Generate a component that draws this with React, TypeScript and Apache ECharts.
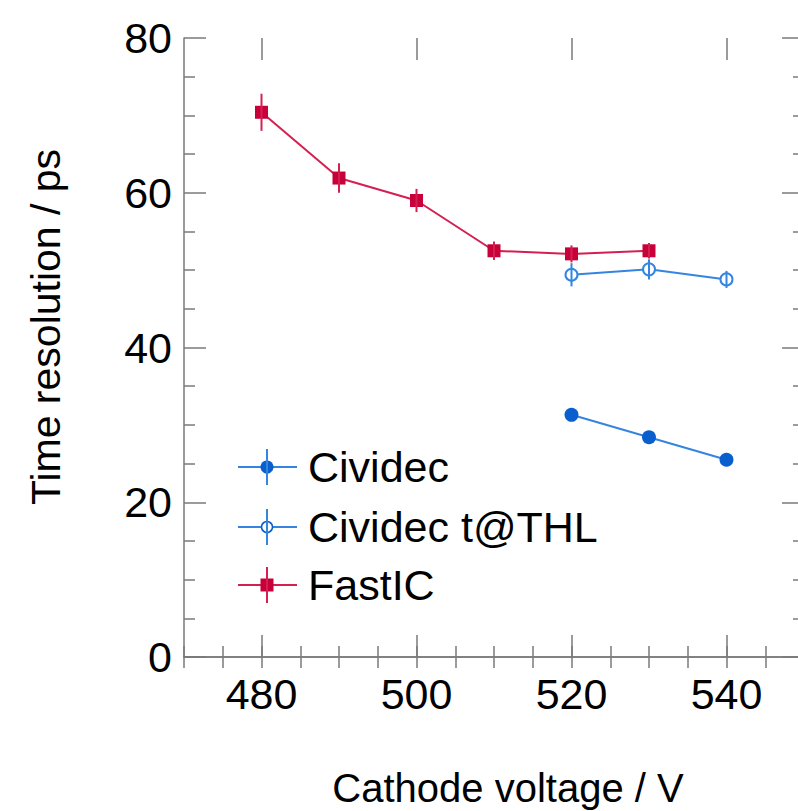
import React, { useEffect, useRef } from "react";
import * as echarts from "echarts";

// ---- data ----
const fastIcX = [480, 490, 500, 510, 520, 530];
const fastIcY = [70.4, 61.9, 59.0, 52.5, 52.1, 52.5];
const fastIcErr = [2.4, 1.9, 1.5, 1.2, 1.1, 1.0];

const thlX = [520, 530, 540];
const thlY = [49.4, 50.1, 48.8];
const thlErr = [1.5, 1.3, 1.1];

const civX = [520, 530, 540];
const civY = [31.3, 28.4, 25.5];
const civErr = [0.6, 0.6, 0.6];

const legendNames = ["Cividec", "Cividec t@THL", "FastIC"];
const xTitle = "Cathode voltage / V";
const yTitle = "Time resolution / ps";

const RED = "#c8003a";
const RED_LINE = "#d42050";
const BLUE = "#0a5fcf";
const BLUE_LINE = "#3585e0";
const AXIS = "#7a7a7a";
const FONT = "Liberation Sans, Arial, sans-serif";

const X_MIN = 470;
const X_MAX = 550;
const MAJOR_MIN = 480;
const MAJOR_MAX = 540;

const pairs = (xs: number[], ys: number[]) => xs.map((x, i) => [x, ys[i]]);
const triples = (xs: number[], ys: number[], es: number[]) =>
  xs.map((x, i) => [x, ys[i], es[i]]);

function errSeries(data: number[][], color: string) {
  return {
    type: "custom",
    xAxisIndex: 0,
    yAxisIndex: 0,
    z: 5,
    silent: true,
    encode: { x: 0, y: 1 },
    data,
    renderItem: (_p: any, api: any) => {
      const x = api.value(0);
      const y = api.value(1);
      const e = api.value(2);
      const a = api.coord([x, y - e]);
      const b = api.coord([x, y + e]);
      return {
        type: "line",
        shape: { x1: a[0], y1: a[1], x2: b[0], y2: b[1] },
        style: { stroke: color, lineWidth: 2 },
      };
    },
  };
}

export default function App() {
  const ref = useRef<HTMLDivElement>(null);

  useEffect(() => {
    document.body.style.margin = "0";
    const chart = echarts.init(ref.current!, undefined, { renderer: "svg" });

    const plotLeft = 184;
    const plotWidth = 620;
    const pxPerUnit = plotWidth / (X_MAX - X_MIN);
    const gridMain = {
      left: plotLeft,
      top: 38,
      width: plotWidth,
      height: 619,
      containLabel: false,
      outerBoundsMode: "none",
    };
    // overlay grid spanning only the major-tick range, so its ticks fall on 480..540
    const gridMajor = {
      ...gridMain,
      left: plotLeft + (MAJOR_MIN - X_MIN) * pxPerUnit,
      width: (MAJOR_MAX - MAJOR_MIN) * pxPerUnit,
    };

    const baseX = {
      type: "value",
      min: X_MIN,
      max: X_MAX,
      interval: 5,
      splitLine: { show: false },
      axisLine: { show: true, lineStyle: { color: AXIS, width: 1.5 } },
    };
    const majorX = {
      type: "value",
      gridIndex: 1,
      min: MAJOR_MIN,
      max: MAJOR_MAX,
      interval: 20,
      splitLine: { show: false },
      axisLine: { show: false },
      axisLabel: { show: false },
      axisTick: { show: true, inside: true, length: 22, lineStyle: { color: AXIS, width: 1.5 } },
    };

    const legendRows = [467, 527, 585];
    const legendGraphics: any[] = [];
    legendRows.forEach((cy, i) => {
      const lineColor = i === 2 ? RED_LINE : BLUE_LINE;
      const markColor = i === 2 ? RED : BLUE;
      legendGraphics.push({
        type: "line",
        shape: { x1: 238, y1: cy, x2: 297, y2: cy },
        style: { stroke: lineColor, lineWidth: 2 },
      });
      if (i === 0) {
        legendGraphics.push({
          type: "circle",
          shape: { cx: 267, cy, r: 6.5 },
          style: { fill: markColor },
        });
      } else if (i === 1) {
        legendGraphics.push({
          type: "circle",
          shape: { cx: 267, cy, r: 5.5 },
          style: { fill: "#fff", stroke: markColor, lineWidth: 1.5 },
        });
      } else {
        legendGraphics.push({
          type: "rect",
          shape: { x: 260.5, y: cy - 6.5, width: 13, height: 13 },
          style: { fill: markColor },
        });
      }
      legendGraphics.push({
        type: "line",
        shape: { x1: 267, y1: cy - 18, x2: 267, y2: cy + 18 },
        style: { stroke: lineColor, lineWidth: 2 },
      });
      legendGraphics.push({
        type: "text",
        x: 308,
        y: cy,
        style: {
          text: legendNames[i],
          fontSize: 43,
          fontFamily: FONT,
          fill: "#000",
          align: "left",
          verticalAlign: "middle",
        },
      });
    });

    chart.setOption({
      animation: false,
      backgroundColor: "#fff",
      grid: [gridMain, gridMajor],
      xAxis: [
        {
          ...baseX,
          gridIndex: 0,
          position: "bottom",
          axisTick: { show: true, inside: true, length: 11, lineStyle: { color: AXIS, width: 1.5 } },
          axisLabel: {
            show: true,
            margin: 15,
            fontSize: 43,
            fontFamily: FONT,
            color: "#000",
            formatter: (v: number) => (v % 20 === 0 ? String(v) : ""),
          },
        },
        {
          ...baseX,
          gridIndex: 0,
          position: "top",
          axisTick: { show: true, inside: true, length: 11, lineStyle: { color: AXIS, width: 1.5 } },
          axisLabel: { show: false },
        },
        { ...majorX, position: "bottom" },
        { ...majorX, position: "top" },
      ],
      yAxis: [
        {
          type: "value",
          gridIndex: 0,
          position: "left",
          min: 0,
          max: 80,
          interval: 20,
          splitLine: { show: false },
          axisLine: { show: true, lineStyle: { color: AXIS, width: 1.5 } },
          axisTick: { show: true, inside: true, length: 22, lineStyle: { color: AXIS, width: 1.5 } },
          minorTick: { show: true, splitNumber: 4, length: 11, lineStyle: { color: AXIS, width: 1.5 } },
          axisLabel: { margin: 12, fontSize: 43, fontFamily: FONT, color: "#000" },
        },
        {
          type: "value",
          gridIndex: 0,
          position: "right",
          min: 0,
          max: 80,
          interval: 20,
          splitLine: { show: false },
          axisLine: { show: true, lineStyle: { color: AXIS, width: 1.5 } },
          axisTick: { show: true, inside: true, length: 22, lineStyle: { color: AXIS, width: 1.5 } },
          minorTick: { show: true, splitNumber: 4, length: 11, lineStyle: { color: AXIS, width: 1.5 } },
          axisLabel: { show: false },
        },
        {
          type: "value",
          gridIndex: 1,
          min: 0,
          max: 80,
          show: false,
        },
      ],
      graphic: [
        {
          type: "text",
          x: 46,
          y: 327,
          rotation: Math.PI / 2,
          style: {
            text: yTitle,
            fontSize: 41,
            fontFamily: FONT,
            fill: "#000",
            align: "center",
            verticalAlign: "middle",
          },
        },
        {
          type: "text",
          x: 508,
          y: 788,
          style: {
            text: xTitle,
            fontSize: 40,
            fontFamily: FONT,
            fill: "#000",
            align: "center",
            verticalAlign: "middle",
          },
        },
        ...legendGraphics,
      ],
      series: [
        {
          name: legendNames[0],
          type: "line",
          xAxisIndex: 0,
          yAxisIndex: 0,
          data: pairs(civX, civY),
          symbol: "circle",
          symbolSize: 14,
          itemStyle: { color: BLUE },
          lineStyle: { color: BLUE_LINE, width: 2 },
          z: 3,
        },
        {
          name: legendNames[1],
          type: "line",
          xAxisIndex: 0,
          yAxisIndex: 0,
          data: pairs(thlX, thlY),
          symbol: "emptyCircle",
          symbolSize: 12,
          itemStyle: { color: BLUE_LINE, borderColor: BLUE_LINE, borderWidth: 1.5 },
          lineStyle: { color: BLUE_LINE, width: 2 },
          z: 3,
        },
        {
          name: legendNames[2],
          type: "line",
          xAxisIndex: 0,
          yAxisIndex: 0,
          data: pairs(fastIcX, fastIcY),
          symbol: "rect",
          symbolSize: 13,
          itemStyle: { color: RED },
          lineStyle: { color: RED_LINE, width: 2 },
          z: 3,
        },
        errSeries(triples(civX, civY, civErr), BLUE),
        errSeries(triples(thlX, thlY, thlErr), BLUE_LINE),
        errSeries(triples(fastIcX, fastIcY, fastIcErr), RED_LINE),
      ],
    });

    return () => chart.dispose();
  }, []);

  return (
    <div
      ref={ref}
      style={{ position: "absolute", left: 0, top: 0, width: 798, height: 811 }}
    />
  );
}
